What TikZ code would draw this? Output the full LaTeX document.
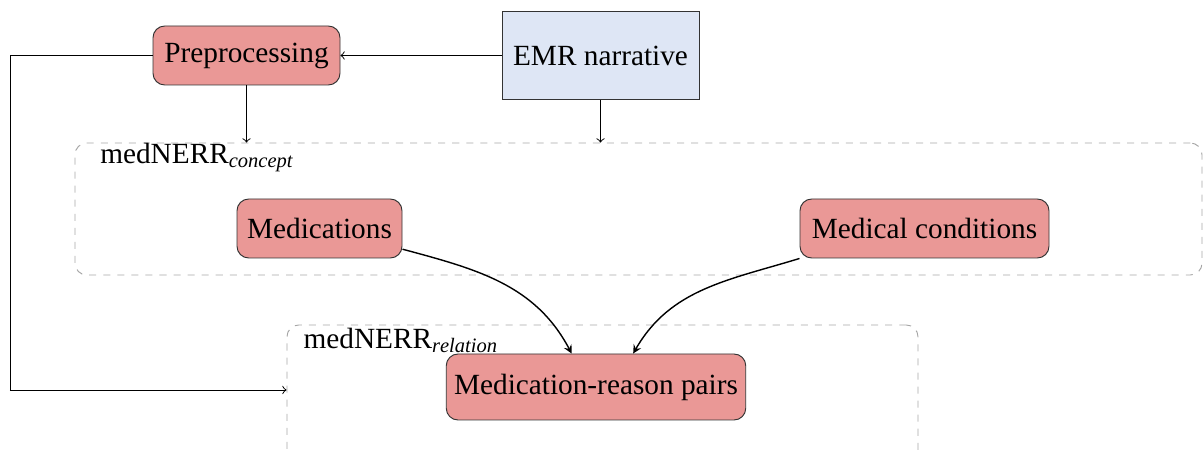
\documentclass[tikz,border=0pt]{standalone}
\usepackage{fontspec}
\setmainfont{Liberation Serif}
\usetikzlibrary{shapes, arrows}
\definecolor{taskred}{RGB}{234,152,150}
\definecolor{inputblue}{RGB}{222,230,245}
\tikzstyle{task} = [rectangle, rounded corners=5pt, minimum height=0.885cm, text centered, draw=black!80, fill=taskred]
\tikzstyle{narrative} = [rectangle, minimum width=2.955cm, minimum height=1.32cm, text centered, draw=black!80, fill=inputblue]
\tikzstyle{stage} = [rectangle, rounded corners=5pt, draw=black!35, dashed]
\tikzstyle{line} = [thin, -]
\tikzstyle{arrow} = [thin, ->, >=to]
\tikzstyle{flow} = [semithick, ->, >=stealth]

\begin{document}
\begin{tikzpicture}[font=\fontsize{12.5}{15}\selectfont]

    \useasboundingbox (0,0) rectangle (18.06,6.81);

    \node (prep) [task, minimum width=2.805cm] at (3.6975,5.9775) {Preprocessing};
    \node (emr) [narrative, right of=prep, xshift=4.31cm] {EMR narrative};
    \node (concept) [stage, minimum width=16.905cm, minimum height=1.98cm] at (9.5775,3.675) {};
    \node (conceptlabel) [anchor=west] at (1.38,4.45) {medNERR$_{\mathit{concept}}$};
    \node (meds) [task, minimum width=2.475cm, below of=prep, xshift=1.095cm, yshift=-1.595cm] {Medications};
    \node (conds) [task, minimum width=3.735cm, right of=meds, xshift=8.075cm] {Medical conditions};
    \node (relation) [stage, minimum width=9.465cm, minimum height=2.535cm] at (9.0375,0.6675) {};
    \node (relationlabel) [anchor=west] at (4.43,1.7) {medNERR$_{\mathit{relation}}$};
    \node (pairs) [task, minimum width=4.47cm, minimum height=0.99cm, below of=meds, xshift=4.1475cm, yshift=-1.3775cm] {Medication-reason pairs};
    \coordinate (corner) at (0.15,0.96);

    \draw[arrow] (emr) -- (prep);
    \draw[arrow] (prep) -- (prep |- concept.north);
    \draw[arrow] (emr) -- (emr |- concept.north);
    \draw[line] (prep.west) -| (corner);
    \draw[arrow] (corner) -- (relation.west |- corner);
    \draw[flow] (meds.-14) to[out=-15, in=118] (pairs.126);
    \draw[flow] (conds.south west) to[out=197, in=60] (pairs.42);

    \end{tikzpicture}
\end{document}
